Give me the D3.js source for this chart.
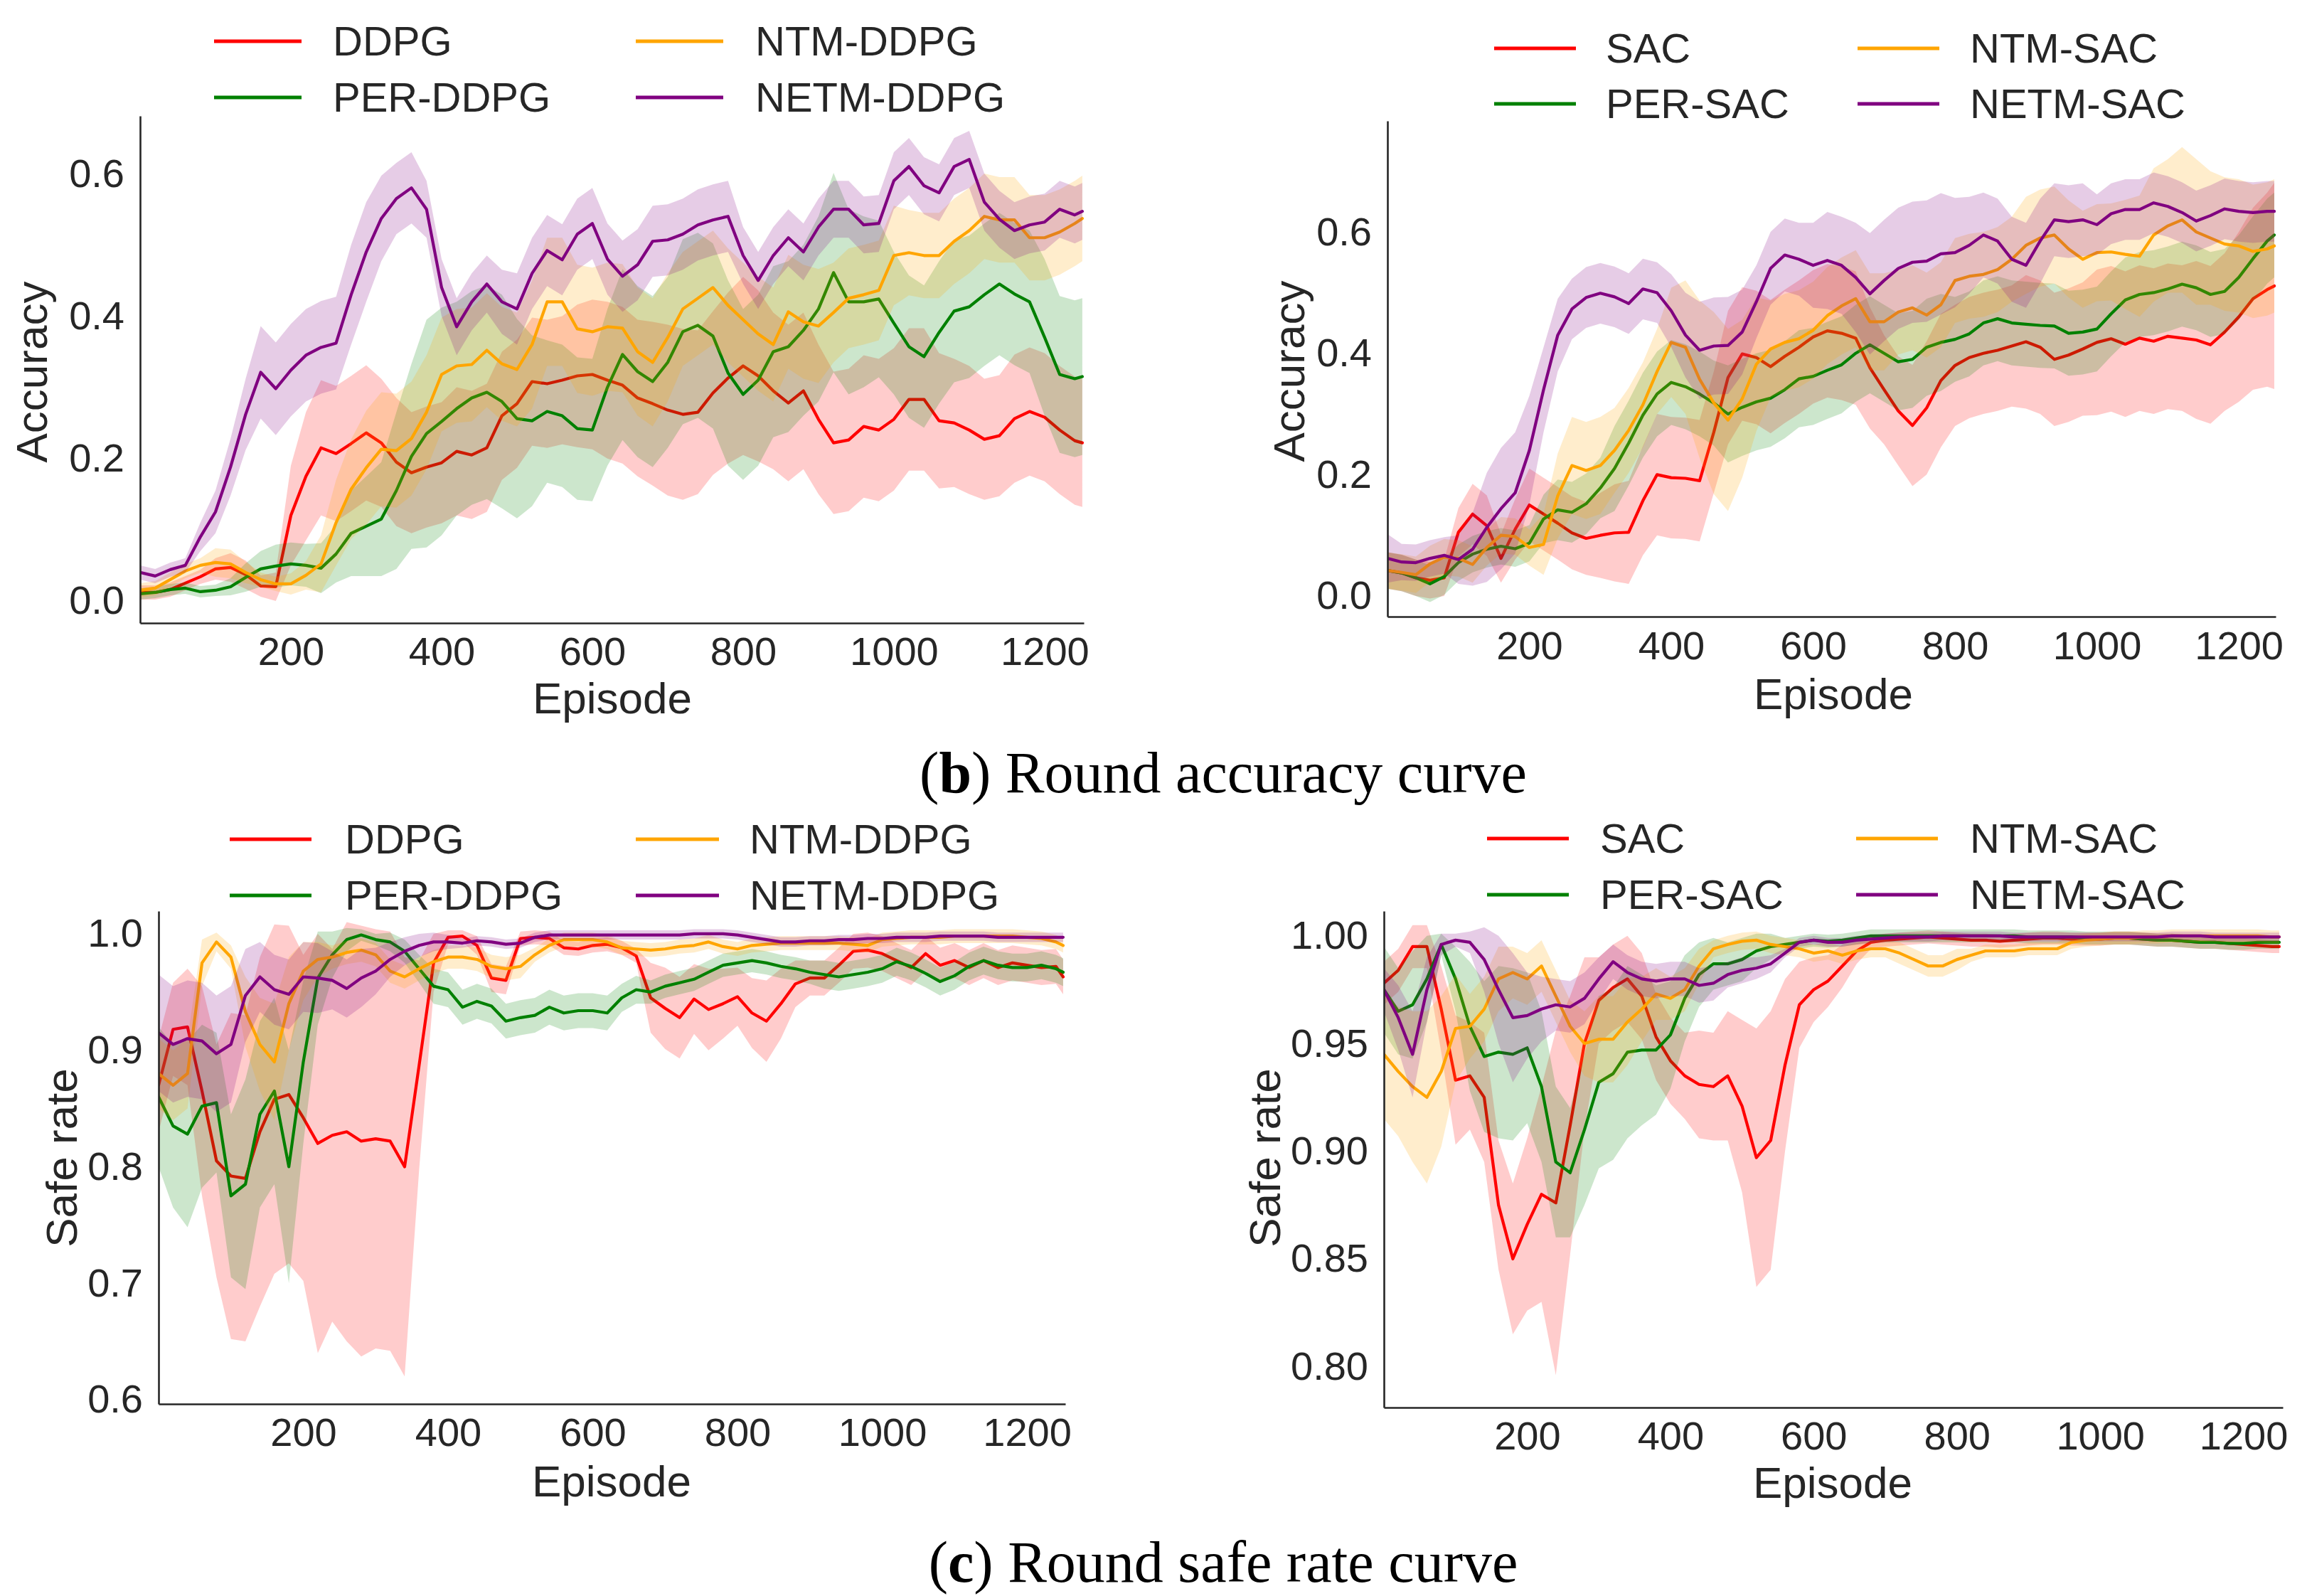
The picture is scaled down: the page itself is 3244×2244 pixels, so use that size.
<!DOCTYPE html>
<html><head><meta charset="utf-8">
<script src="https://cdn.jsdelivr.net/npm/d3@7/dist/d3.min.js"></script>
<style>html,body{margin:0;padding:0;background:#fff}</style>
</head><body>
<svg id="chart" width="3244" height="2244" xmlns="http://www.w3.org/2000/svg"></svg>
<script>
// ---------- data ----------
const episodes = d3.range(0, 1250, 20).concat([1250]);
const xTicks = [200, 400, 600, 800, 1000, 1200];
const accTicks = [0.0, 0.2, 0.4, 0.6];
const safeTicksDDPG = [0.6, 0.7, 0.8, 0.9, 1.0];
const safeTicksSAC = [0.80, 0.85, 0.90, 0.95, 1.00];
const namesDDPG = ["DDPG", "PER-DDPG", "NTM-DDPG", "NETM-DDPG"];
const namesSAC = ["SAC", "PER-SAC", "NTM-SAC", "NETM-SAC"];
const captionB = ["(", "b", ") Round accuracy curve"];
const captionC = ["(", "c", ") Round safe rate curve"];

// (b) accuracy, DDPG family
const accDDPG = [0.012,0.012,0.016,0.025,0.034,0.045,0.047,0.037,0.021,0.020,
0.120,0.175,0.215,0.207,0.221,0.236,0.222,0.195,0.180,0.188,
0.194,0.210,0.205,0.215,0.260,0.277,0.308,0.305,0.310,0.316,
0.318,0.310,0.303,0.285,0.277,0.268,0.262,0.265,0.292,0.313,
0.330,0.316,0.295,0.278,0.295,0.255,0.222,0.226,0.245,0.240,
0.255,0.283,0.283,0.253,0.250,0.240,0.227,0.232,0.256,0.266,
0.258,0.240,0.225,0.222];
const accDDPGsd = [0.010,0.010,0.010,0.010,0.010,0.015,0.020,0.020,0.015,0.020,
0.070,0.090,0.095,0.095,0.095,0.095,0.090,0.090,0.085,0.085,
0.085,0.090,0.090,0.090,0.090,0.090,0.090,0.090,0.090,0.100,
0.105,0.110,0.110,0.110,0.115,0.120,0.120,0.115,0.115,0.120,
0.125,0.120,0.110,0.110,0.110,0.105,0.100,0.100,0.100,0.100,
0.100,0.100,0.100,0.095,0.090,0.090,0.085,0.085,0.090,0.090,
0.090,0.090,0.090,0.090];
const accPER = [0.010,0.012,0.016,0.018,0.013,0.015,0.020,0.033,0.045,0.049,
0.052,0.050,0.046,0.066,0.095,0.105,0.115,0.155,0.203,0.235,
0.252,0.270,0.285,0.293,0.280,0.256,0.253,0.266,0.260,0.242,
0.240,0.300,0.346,0.322,0.308,0.335,0.378,0.387,0.372,0.320,
0.290,0.310,0.350,0.357,0.380,0.410,0.461,0.420,0.420,0.424,
0.390,0.357,0.343,0.377,0.407,0.413,0.430,0.445,0.431,0.420,
0.370,0.318,0.312,0.315];
const accPERsd = [0.008,0.008,0.008,0.008,0.008,0.008,0.012,0.020,0.025,0.030,
0.030,0.030,0.035,0.040,0.060,0.070,0.080,0.110,0.130,0.160,
0.160,0.150,0.150,0.150,0.150,0.140,0.120,0.100,0.100,0.100,
0.100,0.110,0.120,0.120,0.120,0.120,0.130,0.130,0.130,0.130,
0.120,0.120,0.120,0.120,0.120,0.130,0.140,0.130,0.120,0.110,
0.100,0.100,0.100,0.100,0.100,0.100,0.100,0.100,0.100,0.100,
0.110,0.110,0.110,0.110];
const accNTM = [0.015,0.018,0.030,0.042,0.050,0.054,0.052,0.040,0.030,0.024,
0.024,0.036,0.052,0.110,0.157,0.187,0.213,0.211,0.228,0.265,
0.318,0.330,0.332,0.352,0.333,0.325,0.360,0.420,0.420,0.382,
0.378,0.385,0.383,0.350,0.335,0.370,0.410,0.425,0.440,0.415,
0.395,0.375,0.360,0.406,0.392,0.386,0.405,0.425,0.430,0.436,
0.485,0.489,0.485,0.485,0.505,0.520,0.540,0.535,0.535,0.510,
0.510,0.518,0.530,0.537];
const accNTMsd = [0.010,0.010,0.010,0.010,0.010,0.020,0.020,0.015,0.010,0.010,
0.015,0.020,0.040,0.060,0.070,0.080,0.080,0.080,0.080,0.080,
0.080,0.080,0.080,0.080,0.080,0.080,0.090,0.090,0.090,0.090,
0.090,0.090,0.090,0.090,0.090,0.090,0.080,0.080,0.080,0.080,
0.080,0.080,0.080,0.080,0.080,0.080,0.070,0.070,0.070,0.070,
0.070,0.060,0.060,0.060,0.060,0.060,0.060,0.060,0.060,0.060,
0.060,0.060,0.060,0.060];
const accNETM = [0.040,0.035,0.044,0.050,0.090,0.125,0.188,0.262,0.321,0.298,
0.324,0.345,0.356,0.362,0.430,0.490,0.537,0.565,0.580,0.550,
0.440,0.385,0.420,0.445,0.420,0.410,0.460,0.492,0.479,0.515,
0.530,0.480,0.456,0.472,0.505,0.507,0.515,0.528,0.535,0.540,
0.485,0.450,0.485,0.510,0.490,0.525,0.550,0.550,0.528,0.530,
0.590,0.610,0.583,0.573,0.610,0.620,0.560,0.536,0.520,0.528,
0.532,0.550,0.542,0.547];
const accNETMsd = [0.010,0.010,0.010,0.010,0.020,0.030,0.040,0.050,0.065,0.065,
0.065,0.065,0.065,0.065,0.070,0.070,0.060,0.050,0.050,0.040,
0.040,0.040,0.040,0.040,0.045,0.050,0.050,0.050,0.050,0.050,
0.050,0.050,0.050,0.050,0.050,0.050,0.050,0.050,0.050,0.050,
0.040,0.040,0.040,0.040,0.040,0.040,0.040,0.040,0.040,0.040,
0.040,0.040,0.040,0.040,0.040,0.040,0.040,0.040,0.040,0.040,
0.040,0.040,0.040,0.040];

// (b) accuracy, SAC family
const accSAC = [0.042,0.038,0.030,0.026,0.030,0.105,0.135,0.116,0.062,0.110,
0.150,0.135,0.120,0.104,0.095,0.100,0.104,0.105,0.157,0.200,
0.195,0.194,0.190,0.270,0.360,0.399,0.393,0.378,0.395,0.410,
0.427,0.437,0.433,0.425,0.376,0.340,0.305,0.281,0.310,0.355,
0.380,0.393,0.400,0.405,0.412,0.419,0.410,0.390,0.397,0.407,
0.418,0.424,0.415,0.425,0.420,0.428,0.425,0.422,0.414,0.435,
0.460,0.490,0.505,0.511];
const accSACsd = [0.03,0.03,0.03,0.03,0.03,0.04,0.05,0.05,0.04,0.05,
0.06,0.06,0.06,0.06,0.06,0.07,0.08,0.085,0.09,0.10,
0.10,0.10,0.10,0.10,0.11,0.11,0.11,0.11,0.11,0.11,
0.11,0.11,0.11,0.11,0.10,0.09,0.09,0.10,0.11,0.11,
0.10,0.10,0.10,0.10,0.10,0.11,0.11,0.11,0.11,0.11,
0.12,0.12,0.12,0.12,0.12,0.12,0.12,0.13,0.13,0.13,
0.14,0.15,0.16,0.17];
const accPERSAC = [0.042,0.038,0.030,0.020,0.032,0.055,0.069,0.077,0.082,0.078,
0.087,0.127,0.142,0.138,0.152,0.178,0.210,0.252,0.298,0.333,
0.352,0.345,0.333,0.318,0.300,0.311,0.320,0.326,0.340,0.358,
0.362,0.372,0.381,0.400,0.414,0.400,0.386,0.390,0.410,0.418,
0.423,0.432,0.450,0.457,0.450,0.448,0.446,0.445,0.433,0.435,
0.440,0.465,0.488,0.497,0.500,0.506,0.514,0.508,0.497,0.502,
0.525,0.556,0.585,0.595];
const accPERSACsd = [0.03,0.03,0.03,0.03,0.03,0.03,0.03,0.03,0.03,0.03,
0.03,0.04,0.05,0.05,0.05,0.05,0.07,0.07,0.07,0.07,
0.07,0.07,0.07,0.07,0.08,0.08,0.08,0.08,0.08,0.08,
0.08,0.08,0.08,0.08,0.08,0.08,0.08,0.08,0.08,0.08,
0.07,0.07,0.07,0.07,0.07,0.07,0.07,0.07,0.07,0.07,
0.07,0.07,0.07,0.07,0.07,0.07,0.07,0.07,0.07,0.07,
0.07,0.07,0.07,0.07];
const accNTMSAC = [0.042,0.039,0.035,0.053,0.064,0.062,0.052,0.080,0.100,0.098,
0.080,0.085,0.165,0.215,0.207,0.215,0.240,0.273,0.315,0.370,
0.418,0.410,0.357,0.318,0.290,0.325,0.382,0.407,0.418,0.424,
0.438,0.462,0.478,0.490,0.452,0.452,0.468,0.475,0.463,0.480,
0.520,0.527,0.530,0.538,0.555,0.578,0.590,0.595,0.572,0.555,
0.566,0.567,0.563,0.560,0.595,0.610,0.620,0.600,0.590,0.580,
0.577,0.568,0.572,0.577];
const accNTMSACsd = [0.03,0.03,0.03,0.03,0.03,0.03,0.03,0.03,0.03,0.03,
0.03,0.05,0.07,0.08,0.08,0.08,0.07,0.07,0.07,0.07,
0.09,0.11,0.13,0.15,0.15,0.13,0.11,0.08,0.08,0.08,
0.08,0.08,0.08,0.08,0.08,0.08,0.07,0.07,0.07,0.07,
0.07,0.07,0.07,0.07,0.07,0.08,0.08,0.08,0.08,0.08,
0.08,0.08,0.09,0.10,0.11,0.11,0.12,0.12,0.11,0.11,
0.11,0.11,0.11,0.11];
const accNETMSAC = [0.062,0.056,0.055,0.062,0.067,0.060,0.077,0.113,0.144,0.170,
0.240,0.340,0.430,0.473,0.492,0.499,0.493,0.482,0.506,0.500,
0.470,0.430,0.405,0.412,0.413,0.435,0.485,0.540,0.562,0.555,
0.545,0.553,0.545,0.525,0.498,0.520,0.540,0.550,0.552,0.564,
0.566,0.578,0.595,0.585,0.555,0.545,0.585,0.620,0.617,0.620,
0.612,0.630,0.637,0.637,0.648,0.642,0.632,0.618,0.627,0.638,
0.634,0.632,0.634,0.634];
const accNETMSACsd = [0.04,0.03,0.03,0.03,0.03,0.04,0.06,0.09,0.10,0.10,
0.09,0.07,0.06,0.05,0.05,0.05,0.05,0.05,0.05,0.05,
0.06,0.07,0.08,0.08,0.08,0.07,0.06,0.06,0.06,0.06,
0.07,0.08,0.08,0.09,0.10,0.10,0.10,0.10,0.10,0.10,
0.09,0.08,0.07,0.07,0.07,0.07,0.07,0.06,0.06,0.06,
0.05,0.05,0.05,0.05,0.05,0.05,0.05,0.05,0.05,0.05,
0.05,0.05,0.05,0.05];

// (c) safe rate, DDPG family
const safeDDPG = [0.870,0.918,0.920,0.865,0.805,0.792,0.790,0.830,0.858,0.862,
0.842,0.820,0.827,0.830,0.822,0.824,0.822,0.800,0.887,0.975,
0.997,0.998,0.990,0.962,0.960,0.996,0.997,0.996,0.988,0.987,
0.990,0.991,0.988,0.981,0.945,0.936,0.928,0.944,0.935,0.940,
0.946,0.932,0.925,0.940,0.957,0.962,0.962,0.973,0.985,0.986,
0.983,0.977,0.971,0.983,0.973,0.977,0.971,0.977,0.971,0.975,
0.973,0.971,0.972,0.963];
const safeDDPGsd = [0.04,0.04,0.05,0.09,0.10,0.14,0.14,0.15,0.15,0.145,
0.14,0.18,0.16,0.18,0.185,0.18,0.18,0.18,0.09,0.025,
0.006,0.005,0.008,0.012,0.012,0.006,0.006,0.006,0.006,0.006,
0.006,0.006,0.006,0.006,0.03,0.035,0.035,0.03,0.035,0.03,
0.025,0.03,0.035,0.03,0.02,0.015,0.015,0.015,0.015,0.015,
0.015,0.015,0.015,0.015,0.015,0.015,0.015,0.015,0.015,0.015,
0.015,0.015,0.015,0.015];
const safePER = [0.860,0.835,0.828,0.852,0.855,0.775,0.785,0.845,0.865,0.800,
0.890,0.962,0.982,0.995,0.999,0.995,0.993,0.985,0.970,0.955,
0.952,0.937,0.942,0.938,0.925,0.928,0.930,0.937,0.932,0.934,
0.934,0.932,0.945,0.952,0.950,0.955,0.958,0.961,0.967,0.973,
0.975,0.977,0.975,0.972,0.970,0.967,0.965,0.963,0.965,0.967,
0.970,0.976,0.972,0.966,0.959,0.964,0.972,0.977,0.973,0.971,
0.971,0.973,0.970,0.967];
const safePERsd = [0.06,0.07,0.08,0.07,0.06,0.07,0.09,0.08,0.08,0.10,
0.07,0.04,0.02,0.01,0.005,0.005,0.008,0.01,0.012,0.015,
0.015,0.015,0.015,0.015,0.015,0.015,0.015,0.015,0.015,0.015,
0.015,0.015,0.012,0.012,0.01,0.01,0.01,0.01,0.01,0.01,
0.01,0.01,0.01,0.01,0.01,0.01,0.012,0.012,0.012,0.012,
0.012,0.012,0.012,0.012,0.012,0.012,0.012,0.012,0.012,0.012,
0.012,0.012,0.012,0.012];
const safeNTM = [0.880,0.870,0.880,0.975,0.993,0.980,0.933,0.905,0.890,0.940,
0.968,0.978,0.980,0.984,0.986,0.982,0.968,0.963,0.970,0.976,
0.980,0.980,0.978,0.972,0.970,0.972,0.982,0.990,0.995,0.995,
0.995,0.993,0.988,0.987,0.986,0.987,0.989,0.990,0.993,0.989,
0.987,0.990,0.991,0.992,0.992,0.992,0.992,0.992,0.991,0.990,
0.995,0.996,0.997,0.997,0.997,0.998,0.998,0.998,0.998,0.998,
0.997,0.996,0.993,0.990];
const safeNTMsd = [0.03,0.03,0.03,0.02,0.008,0.01,0.03,0.04,0.05,0.04,
0.025,0.015,0.01,0.01,0.01,0.01,0.01,0.01,0.01,0.01,
0.01,0.01,0.01,0.01,0.01,0.01,0.006,0.006,0.006,0.006,
0.006,0.006,0.006,0.006,0.006,0.006,0.006,0.006,0.006,0.006,
0.006,0.006,0.006,0.006,0.006,0.006,0.006,0.006,0.006,0.006,
0.006,0.006,0.006,0.006,0.006,0.006,0.006,0.006,0.006,0.006,
0.006,0.006,0.006,0.006];
const safeNETM = [0.915,0.905,0.910,0.908,0.897,0.905,0.947,0.963,0.952,0.948,
0.963,0.962,0.960,0.953,0.962,0.968,0.978,0.985,0.990,0.993,
0.993,0.992,0.994,0.993,0.991,0.992,0.997,0.999,0.999,0.999,
0.999,0.999,0.999,0.999,0.999,0.999,0.999,1.000,1.000,1.000,
0.999,0.997,0.995,0.993,0.993,0.994,0.994,0.995,0.995,0.996,
0.996,0.997,0.997,0.997,0.998,0.998,0.998,0.998,0.997,0.997,
0.997,0.997,0.997,0.997];
const safeNETMsd = [0.05,0.05,0.05,0.05,0.05,0.05,0.04,0.03,0.03,0.03,
0.03,0.03,0.025,0.025,0.025,0.02,0.015,0.012,0.01,0.008,
0.006,0.004,0.004,0.004,0.004,0.004,0.004,0.004,0.004,0.004,
0.004,0.004,0.004,0.004,0.004,0.004,0.004,0.004,0.004,0.004,
0.004,0.004,0.004,0.004,0.004,0.004,0.004,0.004,0.004,0.004,
0.004,0.004,0.004,0.004,0.004,0.004,0.004,0.004,0.004,0.004,
0.004,0.004,0.004,0.004];

// (c) safe rate, SAC family
const safeSAC = [0.978,0.984,0.995,0.995,0.966,0.933,0.935,0.925,0.875,0.850,
0.866,0.880,0.876,0.912,0.950,0.970,0.976,0.980,0.972,0.953,
0.942,0.935,0.931,0.930,0.935,0.921,0.897,0.905,0.940,0.968,
0.975,0.979,0.986,0.993,0.997,0.998,0.9985,0.999,0.9995,0.999,
0.9985,0.998,0.998,0.9975,0.998,0.9985,0.999,0.999,0.9985,0.9985,
0.9985,0.999,0.999,0.9985,0.998,0.998,0.9975,0.997,0.997,0.9965,
0.996,0.9955,0.995,0.995];
const safeSACsd = [0.01,0.01,0.01,0.01,0.02,0.03,0.025,0.03,0.03,0.035,
0.04,0.05,0.08,0.06,0.04,0.02,0.02,0.02,0.02,0.02,
0.02,0.02,0.025,0.025,0.03,0.04,0.06,0.06,0.04,0.02,
0.015,0.012,0.01,0.006,0.003,0.003,0.003,0.003,0.003,0.003,
0.003,0.003,0.003,0.003,0.003,0.003,0.003,0.003,0.003,0.003,
0.003,0.003,0.003,0.003,0.003,0.003,0.003,0.003,0.003,0.003,
0.003,0.003,0.003,0.003];
const safePERSAC = [0.975,0.965,0.968,0.980,0.996,0.980,0.958,0.944,0.946,0.945,
0.948,0.930,0.895,0.890,0.910,0.932,0.936,0.946,0.947,0.947,
0.954,0.971,0.982,0.987,0.987,0.989,0.993,0.995,0.996,0.997,
0.998,0.9975,0.998,0.999,1.000,1.000,1.000,1.000,1.000,1.000,
1.000,1.000,1.000,1.000,1.000,0.9995,0.9995,0.9995,0.9995,0.999,
0.999,0.999,0.999,0.9985,0.998,0.998,0.9975,0.997,0.997,0.9965,
0.9965,0.997,0.997,0.997];
const safePERSACsd = [0.02,0.02,0.025,0.02,0.005,0.015,0.03,0.035,0.04,0.04,
0.035,0.035,0.035,0.03,0.035,0.04,0.04,0.04,0.035,0.03,
0.025,0.02,0.015,0.012,0.01,0.01,0.008,0.006,0.003,0.003,
0.003,0.003,0.003,0.003,0.003,0.003,0.003,0.003,0.003,0.003,
0.003,0.003,0.003,0.003,0.003,0.003,0.003,0.003,0.003,0.003,
0.003,0.003,0.003,0.003,0.003,0.003,0.003,0.003,0.003,0.003,
0.003,0.003,0.003,0.003];
const safeNTMSAC = [0.945,0.937,0.930,0.925,0.937,0.957,0.958,0.966,0.980,0.983,
0.980,0.986,0.972,0.958,0.950,0.952,0.952,0.960,0.966,0.973,
0.971,0.975,0.986,0.994,0.996,0.9975,0.998,0.996,0.995,0.994,
0.992,0.993,0.991,0.993,0.994,0.994,0.992,0.989,0.986,0.986,
0.989,0.991,0.993,0.993,0.993,0.994,0.994,0.994,0.997,0.998,
0.9985,0.999,0.999,0.9995,0.9995,1.000,1.000,1.000,1.000,1.000,
1.000,1.000,0.9995,0.9995];
const safeNTMSACsd = [0.03,0.03,0.035,0.04,0.035,0.025,0.015,0.015,0.015,0.012,
0.012,0.012,0.012,0.012,0.015,0.02,0.02,0.02,0.015,0.012,
0.01,0.01,0.008,0.004,0.004,0.004,0.004,0.004,0.004,0.004,
0.004,0.004,0.004,0.004,0.004,0.004,0.005,0.005,0.005,0.005,
0.005,0.003,0.003,0.003,0.003,0.003,0.003,0.003,0.003,0.003,
0.003,0.003,0.003,0.003,0.003,0.003,0.003,0.003,0.003,0.003,
0.003,0.003,0.003,0.003];
const safeNETMSAC = [0.975,0.962,0.945,0.975,0.996,0.998,0.997,0.989,0.975,0.962,
0.963,0.966,0.968,0.967,0.971,0.980,0.988,0.983,0.980,0.979,
0.980,0.980,0.977,0.978,0.982,0.984,0.985,0.987,0.992,0.997,
0.998,0.997,0.997,0.998,0.9985,0.999,0.9995,0.9995,0.9995,1.000,
1.000,1.000,1.000,1.000,0.9995,0.9995,0.9995,0.9995,0.9995,0.9995,
0.9995,0.9995,0.9995,0.9995,0.9995,1.000,1.000,1.000,0.9995,0.9995,
0.9995,0.9995,0.9995,0.9995];
const safeNETMSACsd = [0.01,0.015,0.02,0.015,0.005,0.003,0.005,0.015,0.025,0.03,
0.02,0.015,0.012,0.012,0.012,0.01,0.008,0.008,0.008,0.008,
0.008,0.008,0.008,0.008,0.006,0.006,0.005,0.004,0.002,0.002,
0.002,0.002,0.002,0.002,0.002,0.002,0.002,0.002,0.002,0.002,
0.002,0.002,0.002,0.002,0.002,0.002,0.002,0.002,0.002,0.002,
0.002,0.002,0.002,0.002,0.002,0.002,0.002,0.002,0.002,0.002,
0.002,0.002,0.002,0.002];

// ---------- drawing ----------
const COLORS = ["#ff0000", "#008000", "#ffa500", "#800080"];
const TXT = "#262626";
const SANS = "'Liberation Sans', Arial, Helvetica, sans-serif";
const SERIF = "'Liberation Serif', 'Times New Roman', Times, serif";

const svg = d3.select("#chart");
svg.append("rect").attr("width", 3244).attr("height", 2244).attr("fill", "#fff");
const defs = svg.append("defs");

const panels = [
  { id: "p1", left: 197, right: 1524, top: 163, bottom: 876, xDomain: [0, 1252], yDomain: [-0.031, 0.681],
    ticks: accTicks, fmt: ".1f", pad: 19, ylabel: "Accuracy", ylabelX: 66, ylabelY: 523, xlabelX: 861, xlabelY: 1003,
    names: namesDDPG, means: [accDDPG, accPER, accNTM, accNETM], sds: [accDDPGsd, accPERsd, accNTMsd, accNETMsd],
    legRows: [58, 137], legCols: [[301, 424, 468], [894, 1017, 1062]] },
  { id: "p2", left: 1951, right: 3200, top: 170, bottom: 867, xDomain: [0, 1252], yDomain: [-0.034, 0.783],
    ticks: accTicks, fmt: ".1f", pad: 20, ylabel: "Accuracy", ylabelX: 1834, ylabelY: 522, xlabelX: 2578, xlabelY: 997,
    names: namesSAC, means: [accSAC, accPERSAC, accNTMSAC, accNETMSAC], sds: [accSACsd, accPERSACsd, accNTMSACsd, accNETMSACsd],
    legRows: [68, 146], legCols: [[2101, 2216, 2258], [2612, 2727, 2770]] },
  { id: "p3", left: 223, right: 1498, top: 1281, bottom: 1974, xDomain: [0, 1253], yDomain: [0.5963, 1.0195],
    ticks: safeTicksDDPG, fmt: ".1f", pad: 19, ylabel: "Safe rate", ylabelX: 108, ylabelY: 1628, xlabelX: 860, xlabelY: 2104,
    names: namesDDPG, means: [safeDDPG, safePER, safeNTM, safeNETM], sds: [safeDDPGsd, safePERsd, safeNTMsd, safeNETMsd],
    legRows: [1180, 1259], legCols: [[323, 438, 485], [894, 1011, 1054]] },
  { id: "p4", left: 1946, right: 3210, top: 1281, bottom: 1979, xDomain: [0, 1255], yDomain: [0.781, 1.0115],
    ticks: safeTicksSAC, fmt: ".2f", pad: 19, ylabel: "Safe rate", ylabelX: 1800, ylabelY: 1628, xlabelX: 2577, xlabelY: 2106,
    names: namesSAC, means: [safeSAC, safePERSAC, safeNTMSAC, safeNETMSAC], sds: [safeSACsd, safePERSACsd, safeNTMSACsd, safeNETMSACsd],
    legRows: [1179, 1258], legCols: [[2091, 2206, 2250], [2610, 2725, 2770]] }
];

panels.forEach(p => {
  const x = d3.scaleLinear().domain(p.xDomain).range([p.left, p.right]);
  const y = d3.scaleLinear().domain(p.yDomain).range([p.bottom, p.top]);
  defs.append("clipPath").attr("id", "clip-" + p.id).append("rect")
    .attr("x", p.left).attr("y", p.top).attr("width", p.right - p.left).attr("height", p.bottom - p.top);
  const plot = svg.append("g").attr("clip-path", `url(#clip-${p.id})`);

  p.means.forEach((m, i) => {
    const rows = episodes.map((e, k) => ({ e: e, m: m[k], s: p.sds[i][k] }));
    const area = d3.area().x(d => x(d.e)).y0(d => y(d.m - d.s)).y1(d => y(d.m + d.s));
    plot.append("path").datum(rows).attr("d", area)
      .attr("fill", COLORS[i]).attr("fill-opacity", 0.2).attr("stroke", "none");
    const line = d3.line().x(d => x(d.e)).y(d => y(d.m));
    plot.append("path").datum(rows).attr("d", line)
      .attr("fill", "none").attr("stroke", COLORS[i]).attr("stroke-width", 4.2)
      .attr("stroke-linejoin", "round").attr("stroke-linecap", "round");
  });

  const xa = svg.append("g").attr("transform", `translate(0,${p.bottom})`)
    .call(d3.axisBottom(x).tickValues(xTicks).tickSize(0).tickSizeOuter(0).tickPadding(p.pad).tickFormat(d3.format("d")));
  const ya = svg.append("g").attr("transform", `translate(${p.left},0)`)
    .call(d3.axisLeft(y).tickValues(p.ticks).tickSize(0).tickSizeOuter(0).tickPadding(22).tickFormat(d3.format(p.fmt)));
  [xa, ya].forEach(a => {
    a.select(".domain").attr("stroke", TXT).attr("stroke-width", 2.6);
    a.selectAll("text").attr("font-family", SANS).attr("font-size", 56).attr("fill", TXT);
  });

  svg.append("text").attr("x", p.xlabelX).attr("y", p.xlabelY).attr("text-anchor", "middle")
    .attr("font-family", SANS).attr("font-size", 62).attr("fill", TXT).text("Episode");
  svg.append("text").attr("transform", `translate(${p.ylabelX},${p.ylabelY}) rotate(-90)`).attr("text-anchor", "middle")
    .attr("font-family", SANS).attr("font-size", 62).attr("fill", TXT).text(p.ylabel);

  // legend: matplotlib ncol=2 -> column-major order
  p.names.forEach((name, i) => {
    const col = p.legCols[Math.floor(i / 2)];
    const ry = p.legRows[i % 2];
    svg.append("line").attr("x1", col[0]).attr("x2", col[1]).attr("y1", ry).attr("y2", ry)
      .attr("stroke", COLORS[i]).attr("stroke-width", 5);
    svg.append("text").attr("x", col[2]).attr("y", ry + 20).attr("font-family", SANS)
      .attr("font-size", 58).attr("fill", TXT).text(name);
  });
});

function caption(parts, cx, by) {
  const t = svg.append("text").attr("x", cx).attr("y", by).attr("text-anchor", "middle")
    .attr("font-family", SERIF).attr("font-size", 82).attr("fill", "#000");
  parts.forEach((s, i) => t.append("tspan").attr("font-weight", i === 1 ? "bold" : "normal").text(s));
}
caption(captionB, 1720, 1114);
caption(captionC, 1720, 2224);
</script>
</body></html>
